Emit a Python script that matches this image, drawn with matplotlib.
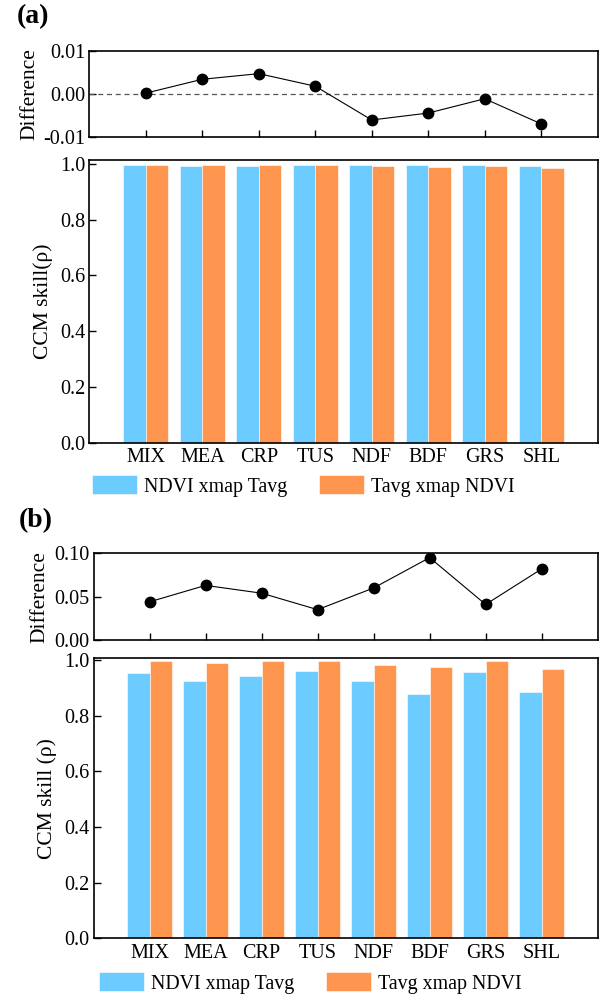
import numpy as np
import matplotlib
matplotlib.use("Agg")
import matplotlib.pyplot as plt
from matplotlib.ticker import FixedLocator, FixedFormatter

plt.rcParams['font.family'] = ['Liberation Serif', 'DejaVu Serif']

classes = ['MIX', 'MEA', 'CRP', 'TUS', 'NDF', 'BDF', 'GRS', 'SHL']

# panel (a)
diff_a = [0.0002, 0.0034, 0.0047, 0.0018, -0.0060, -0.0044, -0.0011, -0.0069]
ndvi_tavg_a = [0.996, 0.991, 0.991, 0.995, 0.997, 0.995, 0.995, 0.993]
tavg_ndvi_a = [0.9962, 0.9944, 0.9957, 0.9968, 0.991, 0.9906, 0.9939, 0.9861]

# panel (b)
diff_b = [0.044, 0.063, 0.054, 0.035, 0.060, 0.095, 0.041, 0.082]
ndvi_tavg_b = [0.954, 0.926, 0.944, 0.963, 0.924, 0.879, 0.956, 0.885]
tavg_ndvi_b = [0.998, 0.989, 0.998, 0.998, 0.984, 0.974, 0.997, 0.967]

blue = '#6ccbff'
orange = '#ff964f'
fs = 14.5     # tick labels
fl = 15.5     # axis labels
fleg = 14.3   # legend

fig = plt.figure(figsize=(6.01, 9.96), dpi=100)
x = np.arange(len(classes))
w = 0.4


def diff_panel(ax, d, ylim, ticks, labels, zero_line):
    if zero_line:
        ax.axhline(0, color='#555555', ls=(0, (4, 3)), lw=0.9)
    ax.plot(x, d, color='black', lw=0.8, marker='o', ms=7.5)
    ax.set_xlim(-1, 8)
    ax.set_ylim(*ylim)
    ax.set_xticks(x)
    ax.set_xticklabels([])
    ax.yaxis.set_major_locator(FixedLocator(ticks))
    ax.yaxis.set_major_formatter(FixedFormatter(labels))
    ax.tick_params(direction='in', length=5, width=1, labelsize=fs, pad=3)
    ax.set_ylabel('Difference', fontsize=fl, labelpad=3)
    for s in ax.spines.values():
        s.set_linewidth(1.2)


def bar_panel(ax, a, b, ytop, ylabel):
    ax.bar(x - w / 2, a, w, color=blue, edgecolor='white', lw=0.4,
           label='NDVI xmap Tavg')
    ax.bar(x + w / 2, b, w, color=orange, edgecolor='white', lw=0.4,
           label='Tavg xmap NDVI')
    ax.set_xlim(-1, 8)
    ax.set_ylim(0, ytop)
    ax.set_yticks(np.arange(0, 1.01, 0.2))
    ax.set_yticklabels(['%.1f' % v for v in np.arange(0, 1.01, 0.2)])
    ax.set_xticks(x)
    ax.set_xticklabels(classes)
    ax.tick_params(axis='y', direction='in', length=5, width=1, labelsize=fs, pad=3)
    ax.tick_params(axis='x', length=0, labelsize=fs, pad=4)
    ax.set_ylabel(ylabel, fontsize=fl, labelpad=5)
    for s in ax.spines.values():
        s.set_linewidth(1.2)


W, H = 601.0, 996.0
ax1 = fig.add_axes([89.3 / W, 1 - 137.3 / H, (597.7 - 89.3) / W, 86.6 / H])
ax2 = fig.add_axes([89.3 / W, 1 - 442.7 / H, (597.7 - 89.3) / W, 282.7 / H])
ax3 = fig.add_axes([93.5 / W, 1 - 640.0 / H, (597.7 - 93.5) / W, 86.7 / H])
ax4 = fig.add_axes([93.5 / W, 1 - 938.3 / H, (597.7 - 93.5) / W, 280.0 / H])

diff_panel(ax1, diff_a, (-0.01, 0.01), [-0.01, 0.0, 0.01], ['-0.01', '0.00', '0.01'], True)
bar_panel(ax2, ndvi_tavg_a, tavg_ndvi_a, 1.014, 'CCM skill(ρ)')
diff_panel(ax3, diff_b, (0, 0.10), [0.0, 0.05, 0.10], ['0.00', '0.05', '0.10'], False)
bar_panel(ax4, ndvi_tavg_b, tavg_ndvi_b, 1.007, 'CCM skill (ρ)')

fig.text(17 / W, 1 - 17 / H, '(a)', fontsize=20, fontweight='bold', va='center')
fig.text(19 / W, 1 - 521 / H, '(b)', fontsize=20, fontweight='bold', va='center')

h, l = ax2.get_legend_handles_labels()
fig.legend(h, l, loc='center left', bbox_to_anchor=(92 / W, 1 - 486 / H), ncol=2,
           frameon=False, fontsize=fleg, borderpad=0, borderaxespad=0,
           handlelength=2.27, handleheight=1.1, handletextpad=0.35, columnspacing=1.6)
h, l = ax4.get_legend_handles_labels()
fig.legend(h, l, loc='center left', bbox_to_anchor=(99 / W, 1 - 983 / H), ncol=2,
           frameon=False, fontsize=fleg, borderpad=0, borderaxespad=0,
           handlelength=2.27, handleheight=1.1, handletextpad=0.35, columnspacing=1.6)

fig.savefig('out.png', dpi=100)
